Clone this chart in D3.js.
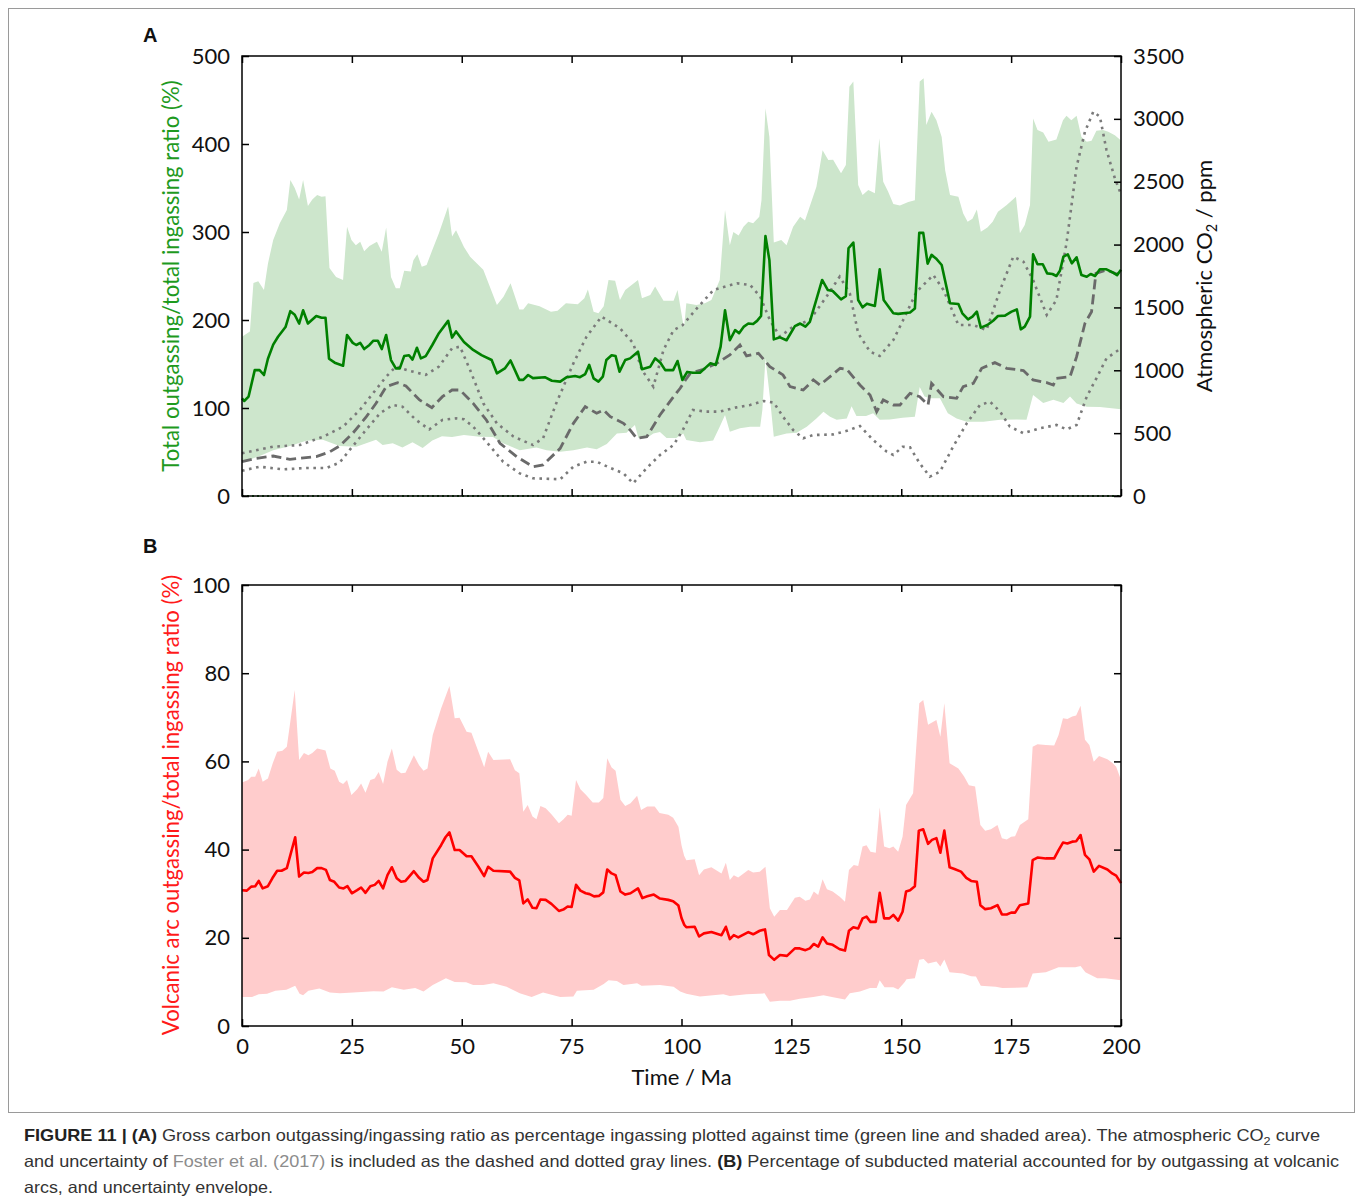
<!DOCTYPE html>
<html>
<head>
<meta charset="utf-8">
<script src="https://cdn.jsdelivr.net/npm/d3@7"></script>
<style>
  html, body { margin: 0; padding: 0; background: #fff; }
  svg { display: block; }
  .tick text { font-family: Lato, "Open Sans", sans-serif; font-size: 22px; fill: #111; }
  .tick line { stroke: #000; stroke-width: 1.5; }
</style>
</head>
<body>
<svg id="chart" width="1358" height="1201"></svg>
<script>
// ---------------- DATA ----------------
const xTicks = [0, 25, 50, 75, 100, 125, 150, 175, 200];
const ratioTicks = [0, 100, 200, 300, 400, 500];
const co2Ticks = [0, 500, 1000, 1500, 2000, 2500, 3000, 3500];
const volcTicks = [0, 20, 40, 60, 80, 100];

// Total outgassing / total ingassing ratio (%), [time Ma, value]
const greenMid = [[0,111],[0.5,108],[1.5,113],[2.9,143],[4,143],[5,137.5],[5.9,156],[7.1,172],[8.2,181],[9.9,192],[11,210],[12,206],[13,196],[13.9,211],[15,196],[16.9,204.5],[18.1,202.6],[19,202.6],[19.8,156],[21.1,151.5],[23,148],[23.9,183],[25.2,174],[26,171.6],[26.9,174],[27.8,167],[29,171.6],[29.9,176.5],[30.9,176.5],[31.8,167],[32.8,183],[33.9,154.5],[35,145],[35.9,145],[36.9,159],[38,160],[38.8,155],[39.8,168.5],[40.7,156.4],[41.8,159],[43.3,171.6],[44.8,185],[46.9,199],[47.8,180],[48.7,187],[50.5,175],[52.6,166],[54.5,160],[56.8,154.5],[58,139.4],[59.8,145],[61.1,154],[63.1,132],[64,132],[65.1,137.5],[66.2,134],[68.9,135],[70.5,131],[72.4,130],[73.9,135],[75.8,136.4],[76.9,135],[78.1,138.6],[79,149],[80,133.7],[81.1,130],[82.1,135.6],[82.9,154.5],[84.1,160],[85,159],[85.9,141.3],[87.2,154.5],[88.3,156.4],[90.1,164],[91,144],[92.9,147],[94,156.4],[95.2,151.5],[96.3,143],[98.1,143],[99.1,153.4],[100.2,131.8],[101.3,141],[102.6,140],[104.2,140],[105.3,145],[106.6,150.8],[107.8,149],[108.9,169.7],[109.9,211],[111,177],[112.2,188.6],[113.1,185],[114.2,192.5],[115.2,196],[116.3,195.5],[117.2,199],[118.1,204.5],[119.1,295.5],[120,268],[121,178],[122.4,180.3],[123.9,177],[125.8,193],[127,196],[128.2,192.5],[129.2,198],[132,245.5],[133.3,234],[134.4,233],[136.3,223.5],[137.4,227],[138,281.5],[139.1,288],[140.2,222.7],[141.2,214.4],[142.2,218.6],[144,216],[145.1,257.6],[146,222.7],[148.2,207.6],[149.3,207],[152,208.5],[153.1,213],[154.1,299],[155,299],[156,264],[156.9,274],[157.9,270],[159.2,262.5],[161.1,219],[163,218.2],[163.9,207.6],[165.2,200.8],[166.2,203.8],[167.2,209.5],[168.1,191.3],[169.6,194.3],[170.9,199.2],[172,204.5],[173.6,205],[175.1,209.5],[176.3,212],[177.2,189.4],[178.1,192.5],[179.3,203.8],[180,274.6],[181,263.3],[182.2,263.3],[183.2,253],[184.4,252.3],[185.3,250],[186.1,256],[186.9,272],[187.9,274.6],[188.8,264.4],[189.9,271.2],[191,251],[192.2,249.2],[193.1,252.3],[194.1,250],[195.2,257.6],[196.7,257.6],[198.2,253.8],[199.1,251],[200,257]];
const greenHi = [[0,181],[1.8,187],[2.6,242],[3.7,244],[5,234],[5.9,264],[7.1,291],[8.6,310],[10.2,325],[11,359],[12,350],[13,337],[13.9,359],[15,329.5],[16,337],[17.1,342],[18.1,340],[19,340.5],[19.9,259],[21.4,249],[23,245.5],[23.9,306],[24.9,291],[25.9,285],[26.9,289],[27.8,278],[29,284],[30.7,289],[31.8,277.5],[32.8,305],[33.9,249],[35,236],[35.9,236],[36.9,256],[38.4,255],[39,268],[39.9,274.6],[40.9,260.6],[42,262.5],[43.3,279.5],[44.8,298.5],[46.9,329],[47.8,295],[48.7,302],[50.5,283],[51.9,272],[54.9,257],[58,217],[59.5,226.5],[61.1,241.7],[63.1,212],[64,212],[65.1,219],[67.7,215.5],[70.3,209.5],[71.8,210.6],[73.7,219],[76.4,218],[77.9,224.6],[78.7,234.8],[80,209.5],[81.1,207.6],[82.3,215.5],[83.4,245.5],[84.9,244.7],[86,222.7],[87.2,234],[90.1,245.5],[91,224.6],[92.9,228.4],[94,238],[95.9,222],[98.2,222],[99.1,234],[100.3,198],[100.6,192.4],[101.1,219],[103.4,217],[105.3,219],[106.8,222.7],[108.7,245.5],[109.9,325],[111,285],[111.8,300],[113,296],[114.1,306],[115.2,311.7],[116.3,310],[117.7,317.4],[118.2,336],[119.1,440.5],[120,408],[121,288],[122.7,291],[123.9,285],[125.4,306],[127,317.4],[128.1,313],[130.7,351.5],[132.1,393],[133.4,381.8],[134.5,382],[136.3,366.7],[137.4,376],[138.2,465],[139.1,471],[140.2,353.4],[141.2,342],[142.5,347.7],[144,344],[145,406.4],[145.9,357],[147,346],[148.2,331.8],[149.7,330],[151.6,334],[153.1,336],[154.2,471],[155.1,474.6],[155.7,421.6],[156.9,436.7],[158,427],[159.2,408],[160,370],[161.1,342],[163,340],[164.1,321],[165.1,311.7],[166.2,315],[167.2,325.7],[168.1,300.4],[169.6,305],[170.8,311.7],[172,323],[174,330.7],[176.1,340],[177,298.5],[178.1,308],[179.3,330.7],[180,429],[181,416],[182.3,413],[183.5,402.6],[185.3,405],[186.8,427],[187.6,432],[188.7,427],[189.9,432],[191,408],[192.2,402.6],[193.3,403.7],[194.4,415],[195.9,416],[197.1,414],[198.6,410],[200,404]];
const greenLo = [[0,38],[4,45.5],[7.1,52],[10.9,56.8],[14.6,62.9],[18.4,64],[22.2,56.8],[26,56],[30.5,64],[32,58],[34.3,60],[36.5,55],[38.8,61],[41.1,54.6],[43.3,63],[45.5,68],[47.8,67],[50.5,69.3],[54.1,67.4],[57.1,67],[59.4,60],[63.2,52],[67,55],[69.3,52],[72.4,50.3],[75.4,52],[78.5,55],[80.7,53],[83,59],[85.3,71],[87.5,72],[89.4,80.7],[90.2,66],[92.1,66],[93.6,71],[95.1,72.8],[96.6,66],[98.8,66],[100.4,71],[101.1,63.6],[104.2,61],[107.2,63],[108.7,78.8],[109.9,92],[111,73],[113.3,77],[115.6,78.8],[117.9,78.8],[118.4,97.7],[119.1,156.4],[120.1,112.9],[121,67.4],[123.9,71],[126.2,72],[128.5,78.8],[130.7,88],[132.3,95.8],[133.8,90],[135.3,86.7],[137.6,88],[138.7,102],[139.8,91],[142,91],[143.6,94],[145.1,86.7],[147.4,87],[150.3,89],[153.1,90],[154.2,124],[155.3,113],[156.5,111],[158.8,111],[160.6,94],[162.6,88],[164.9,84.5],[168.7,84.5],[172.5,86.7],[176.3,87],[178.5,86.7],[180,114.8],[182.3,105.7],[184.6,109.5],[186.9,105.7],[188.4,113],[189.9,105],[192.2,101.5],[195.2,101],[200,98.5]];

// Atmospheric CO2 (ppm), Foster et al. (2017): central (dashed), upper and lower (dotted)
const co2Mid = [[0,273],[3.3,300],[7.1,318],[10.9,292],[16.9,313],[20,352],[22.2,398],[25.2,499],[28.3,631],[30.5,737],[32.8,870],[35.4,901],[37.3,875],[40.4,764],[43.2,703],[45.6,790],[47.8,843],[49.6,843],[52.6,737],[55.6,605],[58.7,419],[62.5,313],[66.2,233],[68.5,247],[72.4,379],[75.4,578],[78.1,711],[80.7,658],[82.3,684],[83.8,631],[86.8,578],[88.3,525],[89.8,459],[92.1,472],[95.1,644],[98.2,790],[99.7,857],[100.9,923],[102,976],[105,1008],[108,1055],[111,1122],[113.3,1201],[114.8,1114],[117.5,1135],[120.1,1029],[123.1,963],[124.7,870],[127.7,843],[130,923],[131.5,883],[136.1,1016],[137.6,1008],[140.6,883],[142.9,803],[144.4,671],[145.9,764],[148.2,724],[149.7,724],[152,817],[154.2,790],[156.1,724],[156.9,896],[159.6,790],[162.6,777],[164.1,870],[166.4,896],[168.3,1016],[171.3,1061],[174,1016],[177.8,998],[180,923],[183.1,902],[184.6,883],[185.3,936],[188.4,949],[189.9,1108],[191.8,1374],[193.3,1466],[194.3,1771],[196.7,1798],[199,1766],[200,1771]];
const co2Hi = [[0,340],[7.1,392],[13.2,406],[18.5,472],[23,552],[26.8,684],[29.8,817],[32.8,949],[35,1029],[38,997],[41.8,963],[44.8,1029],[47.8,1175],[49.6,1188],[51.9,1002],[54.9,737],[58,578],[61.8,472],[66.2,406],[68.5,459],[71.5,737],[75.4,1055],[78.4,1268],[81.8,1427],[86,1334],[89,1215],[91,1002],[93.6,870],[95.9,1161],[98.2,1320],[100.3,1360],[103.5,1493],[107.3,1639],[112.6,1692],[115.6,1679],[117.9,1586],[120.1,1400],[122.4,1268],[125.4,1347],[129.2,1400],[133,1586],[136,1745],[138.3,1612],[140.2,1294],[142.9,1148],[145.1,1114],[148.2,1241],[150.3,1390],[153.5,1625],[157.3,1758],[159.6,1639],[163,1360],[166.4,1360],[169.4,1320],[172.5,1639],[175.5,1904],[177.8,1864],[180,1718],[183.1,1440],[185.3,1559],[187.6,2010],[189.9,2620],[191.8,2898],[193.7,3057],[195.2,3017],[196.7,2752],[198.6,2527],[200,2400]];
const co2Lo = [[0,201],[4,233],[9.4,212],[14.6,223],[19.2,223],[22.2,265],[24.5,366],[27.6,499],[31.4,658],[34.3,724],[36.5,711],[39.6,605],[42.6,530],[45.6,605],[48.7,618],[50.5,610],[52.6,552],[55.6,432],[59.4,273],[63.2,180],[66.2,141],[72.4,133],[75.4,233],[78.4,273],[80.7,273],[83.8,223],[86.8,180],[89,101],[92.1,223],[95.1,326],[98.2,406],[100.3,525],[102.6,684],[105.6,671],[108.7,671],[112.5,705],[115.6,724],[118.7,756],[121,743],[123.1,631],[125.4,525],[127.7,459],[130,485],[134.5,490],[137.6,518],[140.6,557],[143.6,446],[146.7,353],[148.2,326],[150.3,392],[152,387],[154.2,260],[156.5,154],[158.8,193],[161.8,392],[164.9,578],[167.9,724],[170.2,750],[172.5,671],[174.7,552],[177.8,499],[181.6,539],[185.3,565],[187.6,530],[189.9,565],[192.2,790],[194.4,936],[196.7,1095],[200,1175]];
const zeroLine = [[0,0],[200,0]];

// Volcanic arc outgassing / total ingassing ratio (%)
const volcMid = [[0,30.8],[1.1,30.7],[2.1,31.6],[3,31.7],[3.8,32.9],[4.7,31.2],[5.9,31.7],[6.9,33.5],[8,35.2],[9,35.2],[10.2,35.8],[12.1,42.8],[13,33.9],[14.1,34.8],[15.1,34.7],[16,34.9],[17.1,35.8],[18.1,35.8],[19.1,35.4],[20,33.1],[21,32.7],[22.1,31.4],[23.1,31.2],[24,31.7],[25,30.1],[26.2,30.8],[27.1,31.4],[28.1,30.2],[29.2,31.7],[30.2,32],[31.1,32.9],[32.1,31.2],[33.1,34.2],[34.1,36],[35.2,33.5],[36.2,32.7],[37.2,32.9],[39.1,35.1],[40.3,33.6],[41.3,32.7],[42.2,33.1],[43.4,38],[45.3,41],[46.3,42.8],[47.2,43.9],[48.4,39.9],[49.5,39.9],[51.1,38.5],[52.2,38.5],[53.8,36.1],[55.1,34],[56,36.1],[57.2,35.2],[61,35],[62.1,33.6],[63.1,33],[64,27.8],[65,28.7],[66.1,26.8],[67,26.7],[67.9,28.7],[69.1,28.6],[70.4,27.7],[72.1,26.1],[73.1,26.4],[74.1,27.1],[75,27],[76,32],[77,30.7],[78.2,30.1],[79.1,29.9],[80.1,29.4],[81.2,29.5],[82.2,30.3],[83.1,35.5],[84.1,34.6],[85,34.2],[86.1,30.5],[87.2,29.8],[88.4,30.1],[90.1,31.2],[91.1,29],[92.2,29.4],[93.7,29.8],[95.1,28.9],[97,28.6],[98.1,28.3],[99.3,27.3],[100,24.5],[100.6,23],[101.1,22.4],[103,22.5],[104,20.3],[105.1,21],[106.8,21.3],[109.1,20.6],[110.1,22.5],[111,19.7],[111.9,20.6],[112.9,20.1],[115.2,21.3],[116.3,20.8],[117.8,21.6],[119,21.9],[119.9,16.1],[121.1,15],[122.4,16.1],[124,15.9],[125.8,17.6],[126.9,17.6],[128.2,17.2],[129.2,17.6],[130.1,18.6],[131.1,18],[132.1,20.1],[133.1,18.7],[134.4,18.4],[136,17.4],[137.2,17.1],[138.1,21.6],[139.1,22.4],[140.2,22.1],[141.2,24.4],[142.1,24.8],[143,23.6],[144.2,23.6],[145.1,30.2],[146.1,24.4],[147.3,24.4],[148.2,25.2],[149.3,23.9],[150.3,25.9],[151.1,30.5],[152,30.8],[153.1,31.7],[154,44.3],[155,44.6],[156.1,41.3],[157,42.2],[158,42.6],[158.9,39.3],[159.8,44.3],[161,36],[162.1,35.6],[163.6,35],[164.8,33.6],[165.9,32.9],[167.2,32.7],[168,27.4],[169.1,26.5],[170.4,26.7],[171.9,27.4],[172.9,25.3],[174,25.3],[175,25.7],[175.9,25.7],[177,27.4],[178.9,27.8],[179.9,37.6],[181,38.2],[182.9,38],[184.8,38],[185.8,39.9],[186.8,41.6],[187.8,41.4],[188.9,41.8],[189.8,41.9],[190.8,43.3],[191.8,38.8],[192.8,37.8],[193.8,35],[195,36.3],[196.9,35.5],[198,34.6],[198.9,34.1],[200,32.4]];
const volcHi = [[0,55.2],[1.4,55.8],[2.1,56.5],[3,56.5],[3.8,58.4],[4.7,55.4],[5.9,56.1],[7,59.6],[8,62.2],[9.2,62.4],[10.2,63.3],[12,76.2],[13,60.3],[14.1,61.9],[15.1,61.4],[16,61.9],[17.1,62.9],[18.1,62.7],[19,62.5],[20.1,58.4],[21.1,57.9],[22.1,55.4],[23,54.9],[23.9,55.8],[24.9,52.4],[26.2,53.7],[27.1,55],[28.1,52.9],[29.2,55.8],[30.2,56.1],[31.1,57.6],[32.1,54.9],[33.1,59.9],[34.1,62.9],[35.2,58.1],[36.2,57.3],[37.2,57.4],[39.1,61.4],[40.3,59.1],[41.3,57.9],[42.2,58.4],[43.4,66],[45.3,72],[47.2,77.1],[48.4,69.8],[49.5,69.9],[51.1,66.7],[52.2,66.5],[53.8,62.2],[55.1,58.7],[56,62.2],[57.2,60.3],[61,60.5],[62.1,58],[63.1,57.3],[64,48.6],[65,50.1],[66.1,47.5],[67,46.9],[67.9,49.9],[69.1,49.4],[70.4,48],[72.1,46],[73.1,46.8],[74.1,47.9],[75,47.7],[76,55.8],[77,53.7],[78.3,52.4],[79.8,50.7],[81.2,50.7],[82.2,51.7],[83.1,60.7],[84.1,58.6],[85,57.9],[86.1,51.3],[87.2,49.9],[88.4,50.5],[89.9,52.2],[90.8,49],[92.2,49.8],[93.9,49.8],[95,48.3],[97,47.9],[98.1,47.2],[99.3,45.2],[100,41],[100.6,38.6],[101.1,37.6],[103,37.8],[104,34.2],[105.1,35.5],[106.8,36],[109.1,34.6],[110.1,37],[111,33.1],[111.9,34.2],[112.9,33.7],[115.2,35.4],[116.3,34.8],[117.8,35],[119.1,36.1],[120.1,26.7],[121.1,24.8],[122.4,26.3],[124,26.3],[125.8,29.1],[126.9,29.3],[128.2,28.4],[129.2,28.7],[130.1,30.5],[131.1,29.7],[132.1,33.3],[133.1,31],[134.4,30.5],[136,29.3],[137.2,28.2],[138.1,35.4],[139.2,36.5],[140.2,36.3],[141.2,40.7],[142.1,41],[143,39.5],[144.2,39.3],[145.1,49.6],[146.1,40.7],[147.3,40.3],[148.2,40.7],[149.3,39.5],[150.3,42.9],[151.1,50.1],[152.7,52.8],[154.1,73.2],[155,73.9],[156.1,68.3],[158,69.4],[158.9,65.6],[159.8,73.2],[161,59.6],[163,58.4],[164.3,56.6],[165.4,54.6],[166.8,54.3],[168,45.6],[169.1,44.3],[170.4,44.6],[171.9,45.6],[172.9,42.6],[174,42.3],[175,42.9],[175.9,43],[177,45.6],[178.9,46.9],[179.9,63.3],[181,63.9],[182.9,63.7],[184.8,63.6],[185.8,66],[186.8,69.8],[187.8,69.6],[188.9,70.2],[189.8,70.4],[190.8,72.6],[191.8,64.9],[192.8,63.7],[193.8,59.9],[195,61.2],[196.9,60.5],[198,59.7],[198.9,58.8],[200,55.8]];
const volcLo = [[0,6.6],[2.3,6.6],[3.8,7.2],[5.7,7.3],[7.6,8],[10.1,8.2],[12.1,9.1],[13.1,7.3],[13.9,7],[15.1,8],[17.6,8.5],[20,7.6],[22.3,7.4],[25.3,7.6],[29.9,7.9],[32.2,7.8],[34.1,8.8],[36.8,8.2],[39.4,8.6],[41.3,7.8],[43.4,9.3],[46.4,10.8],[48.4,10],[51,9.9],[52.6,9.3],[54.9,9.3],[57.2,9.7],[60.2,8.9],[63.2,7.4],[65.9,6.6],[68.5,7.6],[72.4,6.6],[75.4,6.7],[76.2,8],[80,8.2],[82.3,9.5],[83.4,10.4],[85.3,10.2],[86.8,9.3],[89.9,9.7],[90.9,9.1],[95.1,9.3],[98.2,8.9],[99.7,7.8],[101.1,7.3],[104.2,6.7],[109.5,7.2],[111,6.8],[114.8,7.2],[118.9,7.4],[120.1,5.5],[122.4,5.7],[124.7,5.7],[126.9,6.2],[130,6.6],[132.3,7],[134.5,6.5],[137.2,6],[138.3,7.4],[140.6,7.8],[142.9,8.6],[144.4,8.6],[145.1,10.4],[146.2,8.8],[148.2,8.8],[149.3,8.3],[150.8,10],[151.2,10.6],[153.1,10.8],[154.1,15],[155.1,15.2],[156.1,14.2],[158,14.6],[158.9,13.5],[159.8,15.1],[161,12.2],[164,11.9],[165.9,11.3],[167,11.2],[168.1,9.1],[171.5,8.9],[173,8.6],[176.1,8.7],[178.7,8.8],[179.9,11.9],[182.9,12.2],[185.8,13.3],[187.4,13.3],[189.6,13.3],[190.8,13.6],[191.9,12.2],[194.6,10.8],[196.4,10.8],[200,10.4]];

// ---------------- LAYOUT ----------------
const svg = d3.select("#chart");
const W = 1358, H = 1201;
svg.append("rect").attr("width", W).attr("height", H).attr("fill", "#fff");
// figure frame
svg.append("rect").attr("x", 8.5).attr("y", 8.5).attr("width", 1346).attr("height", 1104)
  .attr("fill", "none").attr("stroke", "#9a9a9a").attr("stroke-width", 1);

const X0 = 242, X1 = 1121;
const A = {top: 56, bottom: 496};
const B = {top: 585, bottom: 1026};

const x = d3.scaleLinear().domain([0, 200]).range([X0, X1]);
const yA = d3.scaleLinear().domain([0, 500]).range([A.bottom, A.top]);
const yCO2 = d3.scaleLinear().domain([0, 3500]).range([A.bottom, A.top]);
const yB = d3.scaleLinear().domain([0, 100]).range([B.bottom, B.top]);
const plain = d3.format("d");

function band(hi, lo, ys) {
  const pts = hi.concat(lo.slice().reverse());
  return d3.line().x(d => x(d[0])).y(d => ys(d[1]))(pts) + "Z";
}
function lineOf(ys) { return d3.line().x(d => x(d[0])).y(d => ys(d[1])); }

// ---------------- PANEL A ----------------
const gA = svg.append("g");
gA.append("path").attr("d", band(greenHi, greenLo, yA)).attr("fill", "#cde6cc");
gA.append("path").attr("d", lineOf(yA)(zeroLine)).attr("fill", "none")
  .attr("stroke", "#1a8a1a").attr("stroke-width", 2).attr("stroke-dasharray", "2,3");
gA.append("path").attr("d", lineOf(yCO2)(co2Hi)).attr("fill", "none")
  .attr("stroke", "#7a7a7a").attr("stroke-width", 2.6).attr("stroke-dasharray", "2.6,4.6");
gA.append("path").attr("d", lineOf(yCO2)(co2Lo)).attr("fill", "none")
  .attr("stroke", "#7a7a7a").attr("stroke-width", 2.6).attr("stroke-dasharray", "2.6,4.6");
gA.append("path").attr("d", lineOf(yCO2)(co2Mid)).attr("fill", "none")
  .attr("stroke", "#6a6a6a").attr("stroke-width", 2.8).attr("stroke-dasharray", "10,5");
gA.append("path").attr("d", lineOf(yA)(greenMid)).attr("fill", "none")
  .attr("stroke", "#008000").attr("stroke-width", 2.6).attr("stroke-linejoin", "round");

// axes A
gA.append("g").attr("transform", `translate(${X0},0)`)
  .call(d3.axisLeft(yA).tickValues(ratioTicks).tickSize(-7).tickPadding(12).tickFormat(plain));
gA.append("g").attr("transform", `translate(${X1},0)`)
  .call(d3.axisRight(yCO2).tickValues(co2Ticks).tickSize(-7).tickPadding(12).tickFormat(plain));
gA.append("g").attr("transform", `translate(0,${A.top})`)
  .call(d3.axisTop(x).tickValues(xTicks).tickSize(-7).tickFormat(""));
gA.append("g").attr("transform", `translate(0,${A.bottom})`)
  .call(d3.axisBottom(x).tickValues(xTicks).tickSize(-7).tickFormat(""));
gA.append("rect").attr("x", X0).attr("y", A.top).attr("width", X1 - X0).attr("height", A.bottom - A.top)
  .attr("fill", "none").attr("stroke", "#000").attr("stroke-width", 1.5);

// ---------------- PANEL B ----------------
const gB = svg.append("g");
gB.append("path").attr("d", band(volcHi, volcLo, yB)).attr("fill", "#ffcccc");
gB.append("path").attr("d", lineOf(yB)(volcMid)).attr("fill", "none")
  .attr("stroke", "#ff0000").attr("stroke-width", 2.6).attr("stroke-linejoin", "round");

gB.append("g").attr("transform", `translate(${X0},0)`)
  .call(d3.axisLeft(yB).tickValues(volcTicks).tickSize(-7).tickPadding(12).tickFormat(plain));
gB.append("g").attr("transform", `translate(${X1},0)`)
  .call(d3.axisRight(yB).tickValues(volcTicks).tickSize(-7).tickFormat(""));
gB.append("g").attr("transform", `translate(0,${B.top})`)
  .call(d3.axisTop(x).tickValues(xTicks).tickSize(-7).tickFormat(""));
gB.append("g").attr("transform", `translate(0,${B.bottom})`)
  .call(d3.axisBottom(x).tickValues(xTicks).tickSize(-7).tickPadding(12).tickFormat(plain));
gB.append("rect").attr("x", X0).attr("y", B.top).attr("width", X1 - X0).attr("height", B.bottom - B.top)
  .attr("fill", "none").attr("stroke", "#000").attr("stroke-width", 1.5);

svg.selectAll(".domain").remove();

// ---------------- TEXT ----------------
const lato = "Lato, 'Open Sans', sans-serif";
svg.append("text").attr("x", 143).attr("y", 42).text("A")
  .attr("font-family", "'Liberation Sans', Arial, sans-serif").attr("font-weight", "bold").attr("font-size", 20).attr("fill", "#111");
svg.append("text").attr("x", 143).attr("y", 553).text("B")
  .attr("font-family", "'Liberation Sans', Arial, sans-serif").attr("font-weight", "bold").attr("font-size", 20).attr("fill", "#111");

svg.append("text").attr("transform", `translate(179,${(A.top + A.bottom) / 2}) rotate(-90)`)
  .attr("text-anchor", "middle").attr("font-family", lato).attr("font-size", 22.2).attr("fill", "#1e9a1e")
  .text("Total outgassing/total ingassing ratio (%)");
svg.append("text").attr("transform", `translate(179,${(B.top + B.bottom) / 2 - 0.5}) rotate(-90)`)
  .attr("text-anchor", "middle").attr("font-family", lato).attr("font-size", 22.2).attr("fill", "#ff1a1a")
  .text("Volcanic arc outgassing/total ingassing ratio (%)");

const co2Title = svg.append("text").attr("transform", `translate(1212,${(A.top + A.bottom) / 2}) rotate(-90)`)
  .attr("text-anchor", "middle").attr("font-family", lato).attr("font-size", 22).attr("fill", "#111");
co2Title.append("tspan").text("Atmospheric CO");
co2Title.append("tspan").text("2").attr("font-size", 14.5).attr("dy", 5);
co2Title.append("tspan").text(" / ppm").attr("dy", -5);

svg.append("text").attr("x", (X0 + X1) / 2).attr("y", 1085).attr("text-anchor", "middle")
  .attr("font-family", lato).attr("font-size", 22).attr("fill", "#111").text("Time / Ma");

// ---------------- CAPTION ----------------
const capFont = "'Liberation Sans', Arial, Helvetica, sans-serif";
const cap = [
  {y: 1141, len: 1296, parts: [
    {t: "FIGURE 11 | (A)", b: true},
    {t: " Gross carbon outgassing/ingassing ratio as percentage ingassing plotted against time (green line and shaded area). The atmospheric CO"},
    {t: "2", sub: true},
    {t: " curve", unsub: true}]},
  {y: 1167, len: 1315, parts: [
    {t: "and uncertainty of "},
    {t: "Foster et al. (2017)", c: "#8c8c8c"},
    {t: " is included as the dashed and dotted gray lines. "},
    {t: "(B)", b: true},
    {t: " Percentage of subducted material accounted for by outgassing at volcanic"}]},
  {y: 1193, len: 249, parts: [{t: "arcs, and uncertainty envelope."}]}
];
cap.forEach(line => {
  const tx = svg.append("text").attr("x", 24).attr("y", line.y)
    .attr("font-family", capFont).attr("font-size", 16.5).attr("fill", "#333")
    .attr("textLength", line.len).attr("lengthAdjust", "spacingAndGlyphs");
  line.parts.forEach(p => {
    const ts = tx.append("tspan").text(p.t);
    if (p.b) ts.attr("font-weight", "bold").attr("fill", "#222");
    if (p.c) ts.attr("fill", p.c);
    if (p.sub) ts.attr("font-size", 11.5).attr("dy", 4);
    if (p.unsub) ts.attr("dy", -4);
  });
});
</script>
</body>
</html>
